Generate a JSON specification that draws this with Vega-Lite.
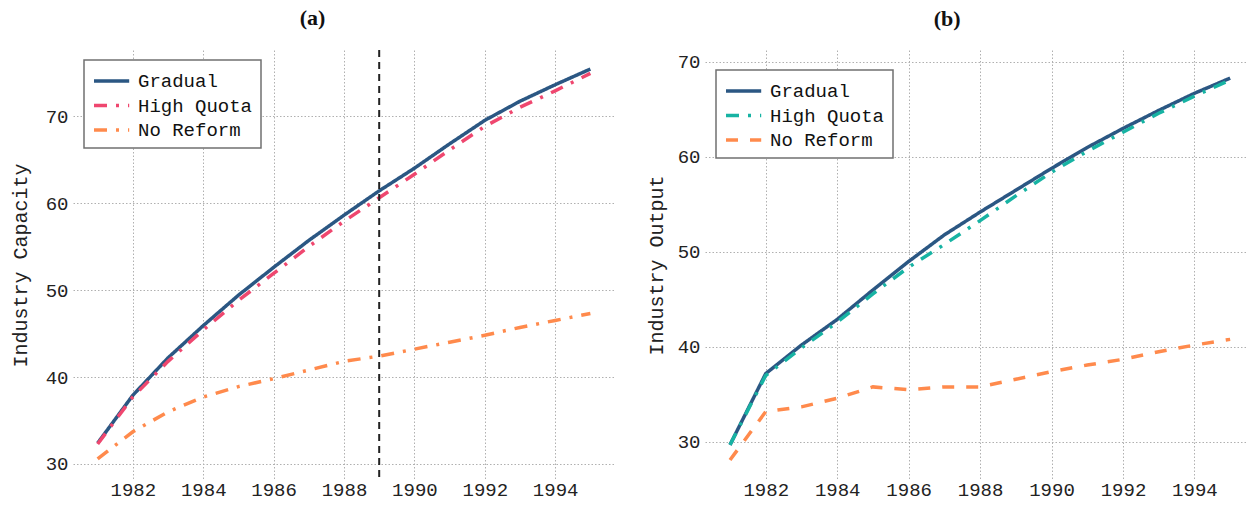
{
  "$schema": "https://vega.github.io/schema/vega-lite/v6.json",
  "padding": {"left": 10, "top": 7, "right": 0, "bottom": 5},
  "background": "white",
  "datasets": {
    "capacity": [
      {"year": 1981, "scenario": "Gradual", "value": 32.4},
      {"year": 1982, "scenario": "Gradual", "value": 37.9},
      {"year": 1983, "scenario": "Gradual", "value": 42.2},
      {"year": 1984, "scenario": "Gradual", "value": 45.9},
      {"year": 1985, "scenario": "Gradual", "value": 49.4},
      {"year": 1986, "scenario": "Gradual", "value": 52.6},
      {"year": 1987, "scenario": "Gradual", "value": 55.7},
      {"year": 1988, "scenario": "Gradual", "value": 58.6},
      {"year": 1989, "scenario": "Gradual", "value": 61.4},
      {"year": 1990, "scenario": "Gradual", "value": 64.0},
      {"year": 1991, "scenario": "Gradual", "value": 66.8},
      {"year": 1992, "scenario": "Gradual", "value": 69.5},
      {"year": 1993, "scenario": "Gradual", "value": 71.7},
      {"year": 1994, "scenario": "Gradual", "value": 73.6},
      {"year": 1995, "scenario": "Gradual", "value": 75.4},
      {"year": 1981, "scenario": "High Quota", "value": 32.3},
      {"year": 1982, "scenario": "High Quota", "value": 37.7},
      {"year": 1983, "scenario": "High Quota", "value": 41.8},
      {"year": 1984, "scenario": "High Quota", "value": 45.4},
      {"year": 1985, "scenario": "High Quota", "value": 48.8},
      {"year": 1986, "scenario": "High Quota", "value": 51.9},
      {"year": 1987, "scenario": "High Quota", "value": 55.0},
      {"year": 1988, "scenario": "High Quota", "value": 57.9},
      {"year": 1989, "scenario": "High Quota", "value": 60.6},
      {"year": 1990, "scenario": "High Quota", "value": 63.3},
      {"year": 1991, "scenario": "High Quota", "value": 66.1},
      {"year": 1992, "scenario": "High Quota", "value": 68.8},
      {"year": 1993, "scenario": "High Quota", "value": 71.0},
      {"year": 1994, "scenario": "High Quota", "value": 72.9},
      {"year": 1995, "scenario": "High Quota", "value": 74.9},
      {"year": 1981, "scenario": "No Reform", "value": 30.6},
      {"year": 1982, "scenario": "No Reform", "value": 33.7},
      {"year": 1983, "scenario": "No Reform", "value": 36.0},
      {"year": 1984, "scenario": "No Reform", "value": 37.7},
      {"year": 1985, "scenario": "No Reform", "value": 38.9},
      {"year": 1986, "scenario": "No Reform", "value": 39.8},
      {"year": 1987, "scenario": "No Reform", "value": 40.8},
      {"year": 1988, "scenario": "No Reform", "value": 41.8},
      {"year": 1989, "scenario": "No Reform", "value": 42.4},
      {"year": 1990, "scenario": "No Reform", "value": 43.2},
      {"year": 1991, "scenario": "No Reform", "value": 44.0},
      {"year": 1992, "scenario": "No Reform", "value": 44.8},
      {"year": 1993, "scenario": "No Reform", "value": 45.7},
      {"year": 1994, "scenario": "No Reform", "value": 46.5},
      {"year": 1995, "scenario": "No Reform", "value": 47.3}
    ],
    "output": [
      {"year": 1981, "scenario": "Gradual", "value": 29.7},
      {"year": 1982, "scenario": "Gradual", "value": 37.2},
      {"year": 1983, "scenario": "Gradual", "value": 40.2},
      {"year": 1984, "scenario": "Gradual", "value": 42.9},
      {"year": 1985, "scenario": "Gradual", "value": 46.0},
      {"year": 1986, "scenario": "Gradual", "value": 49.0},
      {"year": 1987, "scenario": "Gradual", "value": 51.8},
      {"year": 1988, "scenario": "Gradual", "value": 54.2},
      {"year": 1989, "scenario": "Gradual", "value": 56.5},
      {"year": 1990, "scenario": "Gradual", "value": 58.8},
      {"year": 1991, "scenario": "Gradual", "value": 61.0},
      {"year": 1992, "scenario": "Gradual", "value": 63.0},
      {"year": 1993, "scenario": "Gradual", "value": 64.9},
      {"year": 1994, "scenario": "Gradual", "value": 66.7},
      {"year": 1995, "scenario": "Gradual", "value": 68.3},
      {"year": 1981, "scenario": "High Quota", "value": 29.7},
      {"year": 1982, "scenario": "High Quota", "value": 37.0},
      {"year": 1983, "scenario": "High Quota", "value": 39.9},
      {"year": 1984, "scenario": "High Quota", "value": 42.6},
      {"year": 1985, "scenario": "High Quota", "value": 45.6},
      {"year": 1986, "scenario": "High Quota", "value": 48.4},
      {"year": 1987, "scenario": "High Quota", "value": 50.8},
      {"year": 1988, "scenario": "High Quota", "value": 53.3},
      {"year": 1989, "scenario": "High Quota", "value": 55.9},
      {"year": 1990, "scenario": "High Quota", "value": 58.4},
      {"year": 1991, "scenario": "High Quota", "value": 60.6},
      {"year": 1992, "scenario": "High Quota", "value": 62.6},
      {"year": 1993, "scenario": "High Quota", "value": 64.6},
      {"year": 1994, "scenario": "High Quota", "value": 66.4},
      {"year": 1995, "scenario": "High Quota", "value": 68.1},
      {"year": 1981, "scenario": "No Reform", "value": 28.1},
      {"year": 1982, "scenario": "No Reform", "value": 33.2},
      {"year": 1983, "scenario": "No Reform", "value": 33.7},
      {"year": 1984, "scenario": "No Reform", "value": 34.6},
      {"year": 1985, "scenario": "No Reform", "value": 35.8},
      {"year": 1986, "scenario": "No Reform", "value": 35.5},
      {"year": 1987, "scenario": "No Reform", "value": 35.8},
      {"year": 1988, "scenario": "No Reform", "value": 35.8},
      {"year": 1989, "scenario": "No Reform", "value": 36.6},
      {"year": 1990, "scenario": "No Reform", "value": 37.4},
      {"year": 1991, "scenario": "No Reform", "value": 38.1},
      {"year": 1992, "scenario": "No Reform", "value": 38.7},
      {"year": 1993, "scenario": "No Reform", "value": 39.5},
      {"year": 1994, "scenario": "No Reform", "value": 40.2},
      {"year": 1995, "scenario": "No Reform", "value": 40.8}
    ],
    "marker": [{"year": 1989}]
  },
  "hconcat": [
    {
      "title": {"text": "(a)", "offset": 19},
      "width": 542,
      "height": 430,
      "layer": [
        {
          "data": {"name": "capacity"},
          "mark": {"type": "line", "strokeWidth": 3.5, "strokeCap": "butt"},
          "encoding": {
            "x": {"field": "year", "type": "quantitative",
              "scale": {"domain": [1980.3, 1995.7], "nice": false, "zero": false},
              "axis": {"values": [1982, 1984, 1986, 1988, 1990, 1992, 1994], "format": "d", "title": null}},
            "y": {"field": "value", "type": "quantitative",
              "scale": {"domain": [28.16, 77.59], "nice": false, "zero": false},
              "axis": {"values": [30, 40, 50, 60, 70], "title": "Industry Capacity", "titlePadding": 15}},
            "color": {"field": "scenario", "type": "nominal",
              "scale": {"domain": ["Gradual", "High Quota", "No Reform"], "range": ["#2b5783", "#ef476f", "#ff8a4c"]},
              "legend": {"title": null, "orient": "none", "legendX": 11, "legendY": 10}},
            "strokeDash": {"field": "scenario", "type": "nominal",
              "scale": {"domain": ["Gradual", "High Quota", "No Reform"], "range": [[1, 0], [13, 9, 3, 9], [13, 9, 3, 9]]},
              "legend": {"title": null, "orient": "none", "legendX": 11, "legendY": 10}}
          }
        },
        {
          "data": {"name": "marker"},
          "mark": {"type": "rule", "strokeDash": [7, 5], "strokeWidth": 2, "color": "#222222"},
          "encoding": {"x": {"field": "year", "type": "quantitative"}}
        }
      ]
    },
    {
      "title": {"text": "(b)", "offset": 19},
      "width": 543,
      "height": 430,
      "data": {"name": "output"},
      "mark": {"type": "line", "strokeWidth": 3.5, "strokeCap": "butt"},
      "encoding": {
        "x": {"field": "year", "type": "quantitative",
          "scale": {"domain": [1980.3, 1995.5], "nice": false, "zero": false},
          "axis": {"values": [1982, 1984, 1986, 1988, 1990, 1992, 1994], "format": "d", "title": null}},
        "y": {"field": "value", "type": "quantitative",
          "scale": {"domain": [26.0, 71.26], "nice": false, "zero": false},
          "axis": {"values": [30, 40, 50, 60, 70], "title": "Industry Output"}},
        "color": {"field": "scenario", "type": "nominal",
          "scale": {"domain": ["Gradual", "High Quota", "No Reform"], "range": ["#2b5783", "#17b3a3", "#ff8a4c"]},
          "legend": {"title": null, "orient": "none", "legendX": 11, "legendY": 20}},
        "strokeDash": {"field": "scenario", "type": "nominal",
          "scale": {"domain": ["Gradual", "High Quota", "No Reform"], "range": [[1, 0], [13, 9, 3, 9], [12, 12]]},
          "legend": {"title": null, "orient": "none", "legendX": 11, "legendY": 20}}
      }
    }
  ],
  "spacing": 31,
  "resolve": {"scale": {"color": "independent", "strokeDash": "independent"}},
  "config": {
    "view": {"stroke": null},
    "font": "Liberation Mono",
    "axis": {
      "domain": false, "ticks": false, "grid": true,
      "gridColor": "#b0b0b0", "gridDash": [1.5, 2], "gridWidth": 1,
      "labelFont": "Liberation Mono", "labelFontSize": 19, "labelColor": "#222222", "labelPadding": 5,
      "titleFont": "Liberation Mono", "titleFontSize": 20, "titleFontWeight": "normal", "titleColor": "#222222", "titlePadding": 11
    },
    "axisX": {"labelPadding": 0},
    "legend": {
      "strokeColor": "#707070", "strokeWidth": 1.5, "fillColor": "white", "padding": 8, "cornerRadius": 0,
      "symbolType": "M-1,0H2.2", "symbolSize": 484, "symbolStrokeWidth": 3.5,
      "labelFont": "Liberation Mono", "labelFontSize": 19, "labelColor": "#111111", "labelOffset": 20, "rowPadding": 1.5
    },
    "title": {"font": "Liberation Serif", "fontSize": 22, "fontWeight": "bold", "color": "#111111", "frame": "bounds", "anchor": "middle"}
  }
}
